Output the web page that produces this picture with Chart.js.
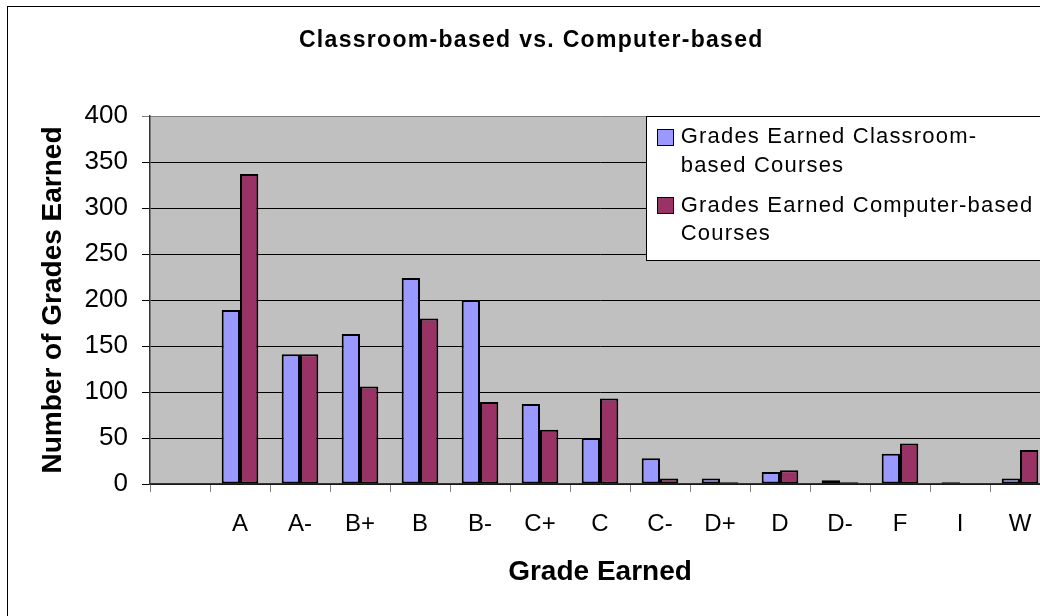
<!DOCTYPE html>
<html>
<head>
<meta charset="utf-8">
<script src="https://cdn.jsdelivr.net/npm/chart.js@4/dist/chart.umd.min.js"></script>
<style>
  html, body { margin: 0; padding: 0; background: #fff; overflow: hidden; }
  #frame { position: absolute; left: 7px; top: 6px; border: 1px solid #000; width: 1046px; height: 620px; }
  canvas { display: block; }
</style>
</head>
<body>
<div id="frame"><canvas id="chart" width="1046" height="620"></canvas></div>
<script>
const chartTitle = "Classroom-based vs. Computer-based";
const grades = ["", "A", "A-", "B+", "B", "B-", "C+", "C", "C-", "D+", "D", "D-", "F", "I", "W"];
const classroomGrades = [null, 189, 141, 163, 224, 200, 87, 50, 28, 6, 13, 4, 33, 2, 6];
const computerGrades = [null, 337, 141, 106, 180, 89, 59, 93, 6, 2, 15, 2, 44, 0, 37];
const seriesNames = ["Grades Earned Classroom-based Courses", "Grades Earned Computer-based Courses"];
const legendLines = [["Grades Earned Classroom-", "based Courses"], ["Grades Earned Computer-based", "Courses"]];
const seriesColors = ["#9999ff", "#993366"];

Chart.defaults.font.family = '"Liberation Sans", Arial, sans-serif';
Chart.defaults.color = "#000";

// grey plot area, custom title and the boxed two-line legend
const chartDecor = {
  id: "chartDecor",
  beforeDraw(chart) {
    const { ctx, chartArea: a } = chart;
    ctx.save();
    ctx.fillStyle = "#c0c0c0";
    ctx.fillRect(a.left, a.top, a.right - a.left, a.bottom - a.top);
    ctx.restore();
  },
  afterDraw(chart) {
    const ctx = chart.ctx;
    ctx.save();
    ctx.fillStyle = "#000";
    ctx.font = 'bold 23px "Liberation Sans", Arial, sans-serif';
    ctx.letterSpacing = "1.3px";
    ctx.textAlign = "center";
    ctx.textBaseline = "alphabetic";
    ctx.fillText(chartTitle, 523.3, 40.3);

    ctx.fillStyle = "#fff";
    ctx.fillRect(638, 109, 410, 144);
    ctx.strokeStyle = "#000";
    ctx.lineWidth = 1;
    ctx.strokeRect(638.5, 109.5, 410, 144);

    ctx.font = '22px "Liberation Sans", Arial, sans-serif';
    ctx.letterSpacing = "1.2px";
    ctx.textAlign = "left";
    const boxY = [122.5, 190.5];
    const baseY = [136.3, 204.7];
    chart.data.datasets.forEach((ds, i) => {
      ctx.fillStyle = ds.backgroundColor;
      ctx.fillRect(649.5, boxY[i], 16, 16);
      ctx.strokeRect(649.5, boxY[i], 16, 16);
      ctx.fillStyle = "#000";
      legendLines[i].forEach((line, j) => {
        ctx.fillText(line, 672.7, baseY[i] + j * 28.4);
      });
    });
    ctx.restore();
  }
};

new Chart(document.getElementById("chart"), {
  type: "bar",
  data: {
    labels: grades,
    datasets: [
      {
        label: seriesNames[0],
        data: classroomGrades,
        backgroundColor: seriesColors[0],
        borderColor: "#000",
        borderWidth: 2,
        borderSkipped: false
      },
      {
        label: seriesNames[1],
        data: computerGrades,
        backgroundColor: seriesColors[1],
        borderColor: "#000",
        borderWidth: 2,
        borderSkipped: false
      }
    ]
  },
  plugins: [chartDecor],
  options: {
    responsive: false,
    animation: false,
    layout: { padding: { left: 0, right: 4, top: 109, bottom: 0 } },
    datasets: { bar: { categoryPercentage: 0.61, barPercentage: 1.0 } },
    plugins: {
      legend: { display: false },
      title: { display: false },
      tooltip: { enabled: false }
    },
    scales: {
      x: {
        afterFit(scale) { scale.height = 143; },
        grid: { drawOnChartArea: false, drawTicks: true, tickLength: 8, color: "#808080" },
        border: { color: "#333", width: 1.5 },
        ticks: { font: { size: 24 }, padding: 18, maxRotation: 0, autoSkip: false },
        title: {
          display: true,
          text: "Grade Earned",
          font: { size: 28, weight: "bold" },
          padding: { top: 0, bottom: 37.5 }
        }
      },
      y: {
        min: 0,
        max: 400,
        afterFit(scale) { scale.width = 142; },
        grid: {
          color: (c) => (c.tick && c.tick.value === 400 ? "#808080" : "#000"),
          tickLength: 8,
          lineWidth: 1
        },
        border: { color: "#333", width: 1.5 },
        ticks: { stepSize: 50, font: { size: 26 }, padding: 14 },
        title: {
          display: true,
          text: "Number of Grades Earned",
          font: { size: 28, weight: "bold" },
          padding: { top: 28.2, bottom: 0 }
        }
      }
    }
  }
});
</script>
</body>
</html>
